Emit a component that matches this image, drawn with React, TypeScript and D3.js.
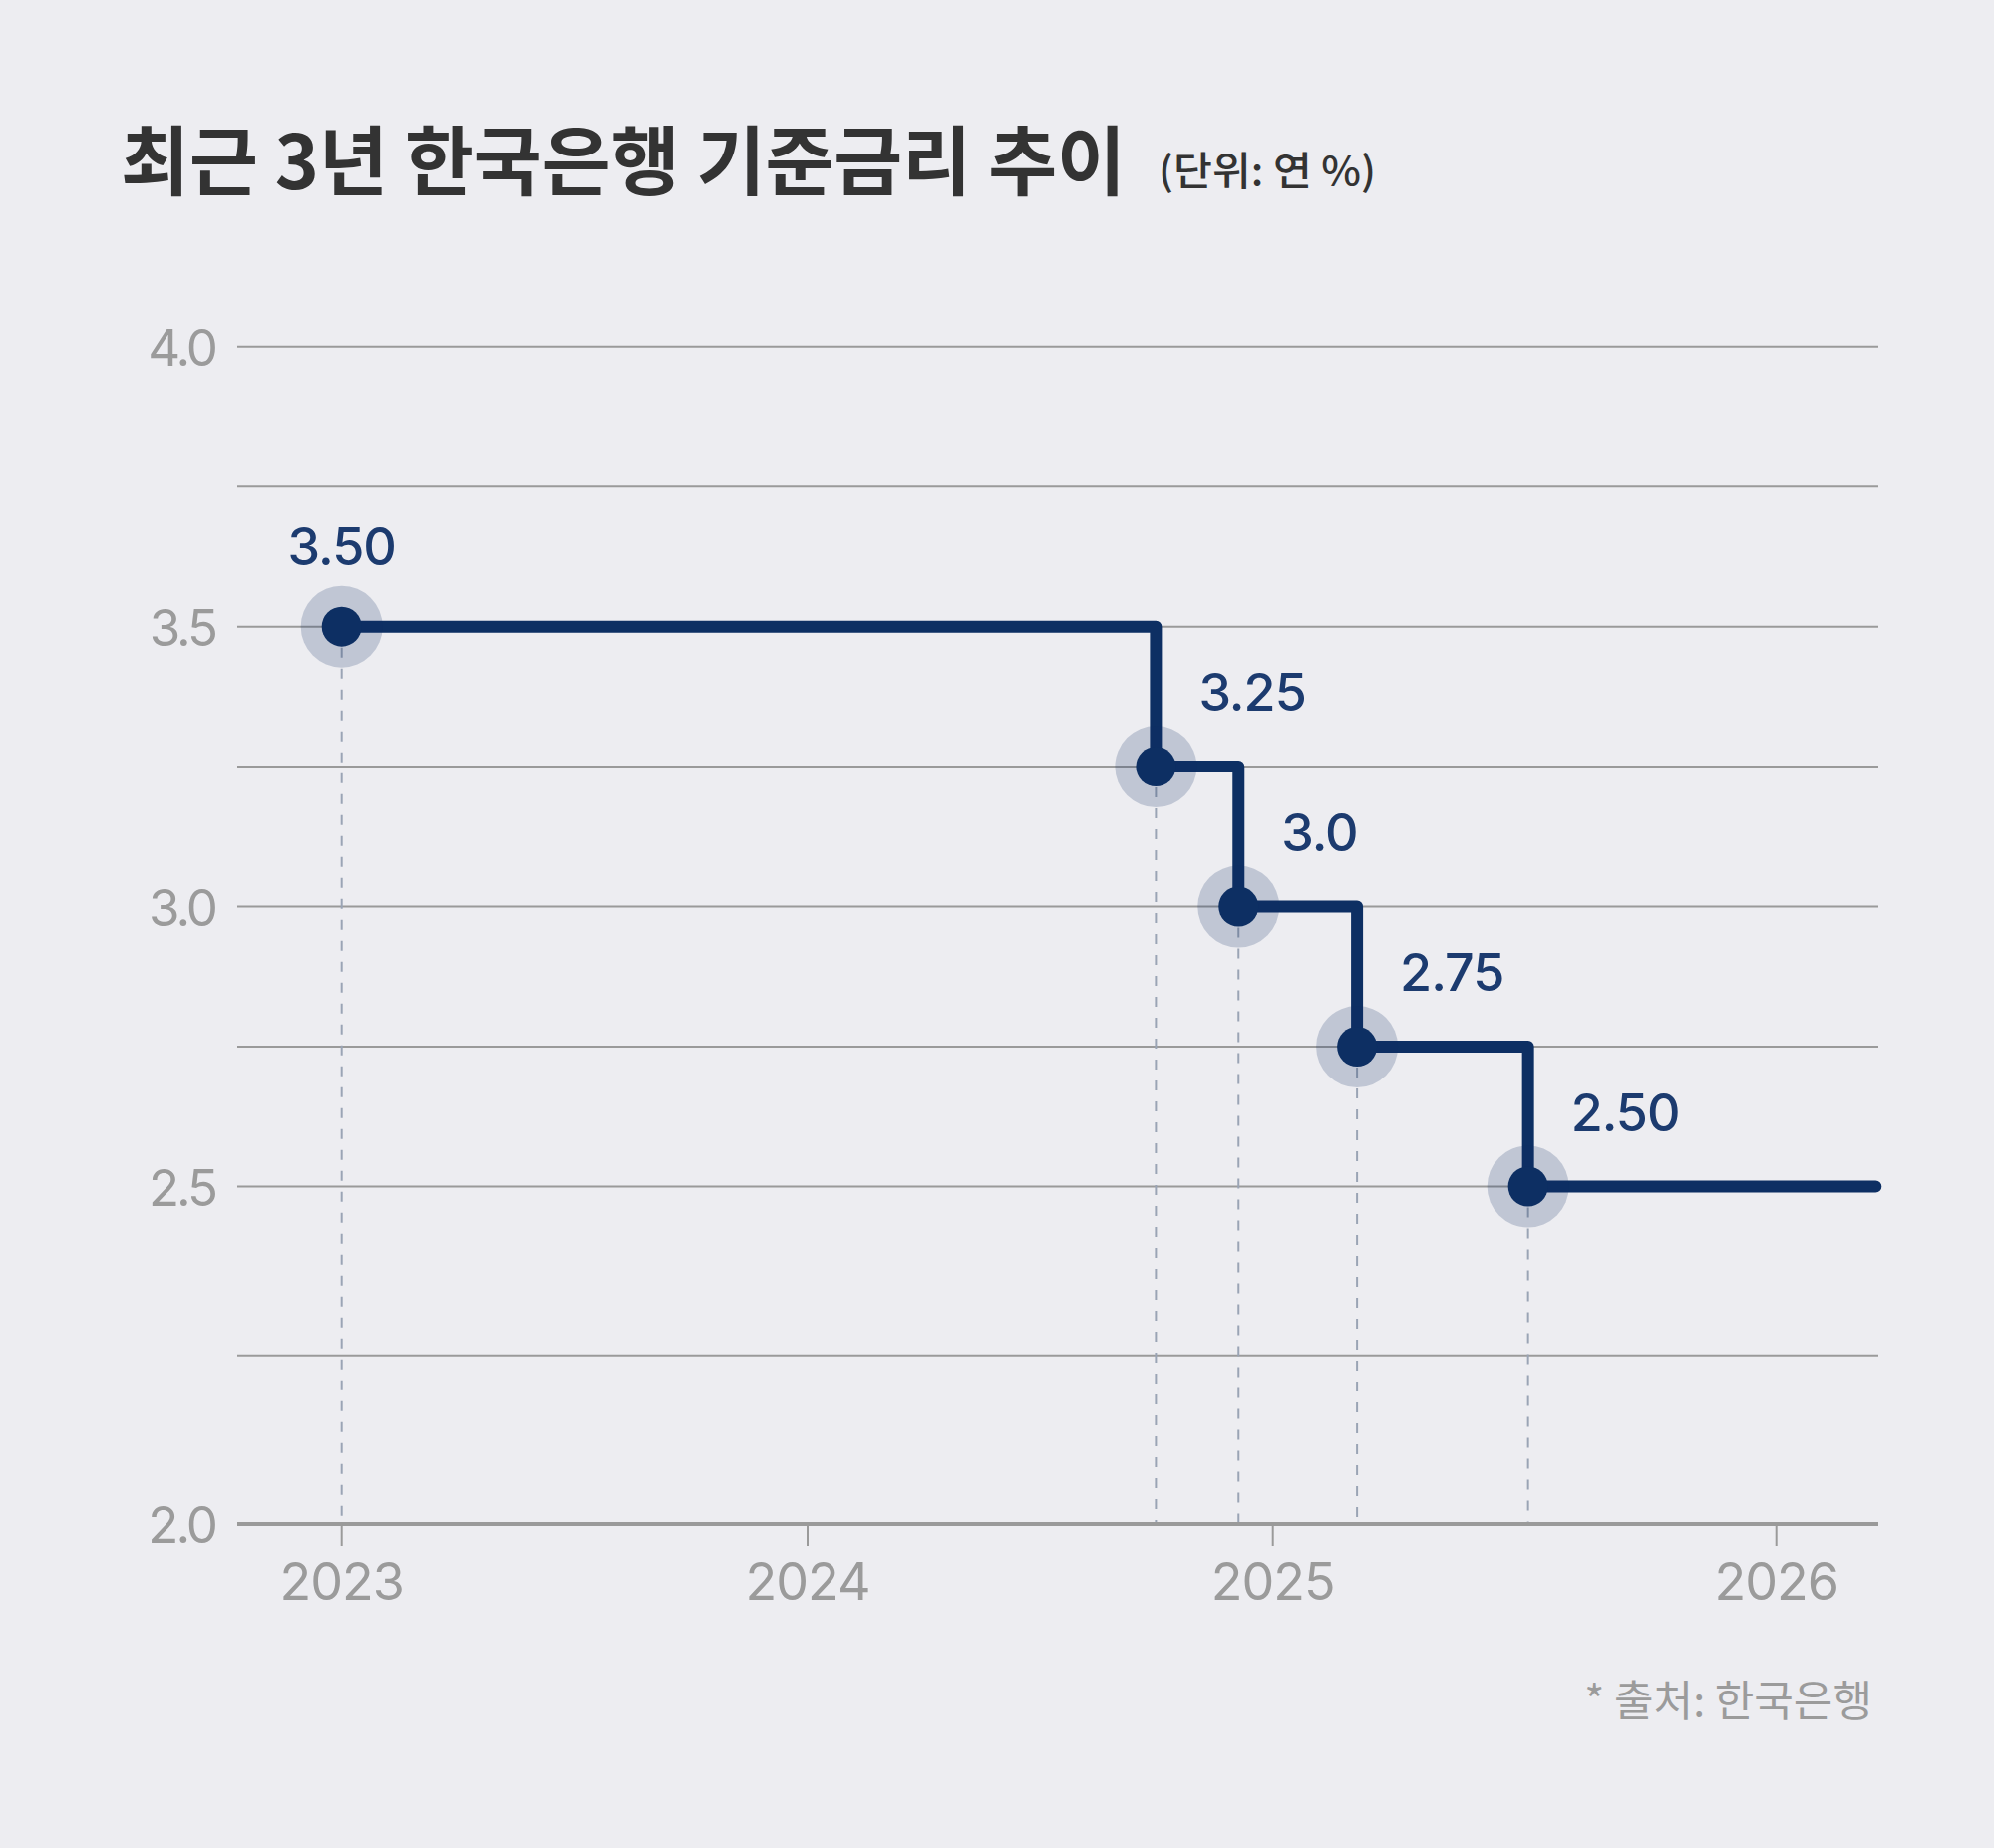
import React, { useEffect, useRef } from 'react';
import * as d3 from 'd3';

// Rate change dates and resulting base rate (last entry only extends the line)
const changeDates = ['2023-01-01', '2024-10-01', '2024-12-05', '2025-03-03', '2025-07-05', '2026-03-14'];
const rates = [3.5, 3.25, 3.0, 2.75, 2.5, 2.5];
const pointLabels = ['3.50', '3.25', '3.0', '2.75', '2.50'];

const yearTicks = ['2023-01-01', '2024-01-01', '2025-01-01', '2026-01-01'];
const yearLabels = ['2023', '2024', '2025', '2026'];
const yTicks = [4.0, 3.5, 3.0, 2.5, 2.0];
const gridValues = [4.0, 3.75, 3.5, 3.25, 3.0, 2.75, 2.5, 2.25];

const title = '최근 3년 한국은행 기준금리 추이';
const unit = '(단위: 연 %)';
const source = '* 출처: 한국은행';

const KR = '"Noto Sans CJK KR", "Noto Sans", sans-serif';
const NUM = 'Inter, "Noto Sans", sans-serif';

export default function App() {
  const svgRef = useRef<SVGSVGElement>(null);

  useEffect(() => {
    if (!svgRef.current) return;
    d3.select(svgRef.current).selectAll('*').remove();

    const width = 2000,
      height = 1854;
    const left = 238,
      right = 1884;
    const parse = d3.utcParse('%Y-%m-%d');

    const svg = d3.select(svgRef.current).attr('width', width).attr('height', height);

    svg.append('rect').attr('width', width).attr('height', height).attr('fill', '#ededf1');

    // x: one segment per year
    const x = d3
      .scaleUtc()
      .domain(yearTicks.map(d => parse(d) as Date))
      .range([342.7, 810, 1276.7, 1781.7]);

    // y: 2.0 baseline sits below an evenly spaced 2.5–4.0 band
    const y = d3.scaleLinear().domain([2.0, 2.5, 4.0]).range([1529, 1190.5, 347.7]);

    // Title
    svg.append('text')
      .attr('x', 121)
      .attr('y', 190)
      .attr('font-family', KR)
      .attr('font-weight', 700)
      .attr('font-size', 76)
      .attr('fill', '#333333')
      .attr('textLength', 1008)
      .attr('lengthAdjust', 'spacingAndGlyphs')
      .text(title);

    svg.append('text')
      .attr('x', 1162)
      .attr('y', 186)
      .attr('font-family', KR)
      .attr('font-weight', 500)
      .attr('font-size', 40)
      .attr('fill', '#333333')
      .attr('textLength', 218)
      .attr('lengthAdjust', 'spacingAndGlyphs')
      .text(unit);

    // Grid lines
    svg.append('g')
      .selectAll('line')
      .data(gridValues)
      .enter()
      .append('line')
      .attr('x1', left)
      .attr('x2', right)
      .attr('y1', d => y(d))
      .attr('y2', d => y(d))
      .attr('stroke', '#9a9a9a')
      .attr('stroke-width', 2);

    // Y tick labels
    svg.append('g')
      .selectAll('text')
      .data(yTicks)
      .enter()
      .append('text')
      .attr('x', 216)
      .attr('y', d => y(d) + 19)
      .attr('text-anchor', 'end')
      .attr('font-family', NUM)
      .attr('font-size', 51)
      .attr('letter-spacing', -3)
      .attr('fill', '#9b9b9b')
      .text(d => d.toFixed(1));

    const data = changeDates.map((d, i) => ({ date: parse(d) as Date, rate: rates[i] }));
    const points = data.slice(0, pointLabels.length);

    // Dashed drop lines
    svg.append('g')
      .selectAll('line')
      .data(points)
      .enter()
      .append('line')
      .attr('x1', d => x(d.date))
      .attr('x2', d => x(d.date))
      .attr('y1', d => y(d.rate))
      .attr('y2', y(2.0))
      .attr('stroke', '#9aa4b5')
      .attr('stroke-width', 2)
      .attr('stroke-dasharray', '10 11');

    // X axis line + ticks
    svg.append('line')
      .attr('x1', left)
      .attr('x2', right)
      .attr('y1', y(2.0))
      .attr('y2', y(2.0))
      .attr('stroke', '#9a9a9a')
      .attr('stroke-width', 4);

    const xTicks = svg.append('g')
      .selectAll('g')
      .data(yearTicks)
      .enter()
      .append('g')
      .attr('transform', d => `translate(${x(parse(d) as Date)},0)`);

    xTicks.append('line')
      .attr('y1', y(2.0))
      .attr('y2', y(2.0) + 22)
      .attr('stroke', '#9a9a9a')
      .attr('stroke-width', 2);

    xTicks.append('text')
      .attr('y', 1605)
      .attr('text-anchor', 'middle')
      .attr('font-family', NUM)
      .attr('font-size', 52)
      .attr('letter-spacing', -1)
      .attr('fill', '#9b9b9b')
      .text((_, i) => yearLabels[i]);

    // Step line
    const line = d3
      .line<{ date: Date; rate: number }>()
      .x(d => x(d.date))
      .y(d => y(d.rate))
      .curve(d3.curveStepAfter);

    svg.append('path')
      .datum(data)
      .attr('d', line)
      .attr('fill', 'none')
      .attr('stroke', '#0d2f63')
      .attr('stroke-width', 12)
      .attr('stroke-linejoin', 'round')
      .attr('stroke-linecap', 'round');

    // Points with halo
    svg.append('g')
      .selectAll('circle')
      .data(points)
      .enter()
      .append('circle')
      .attr('cx', d => x(d.date))
      .attr('cy', d => y(d.rate))
      .attr('r', 41)
      .attr('fill', '#0d2f63')
      .attr('fill-opacity', 0.2);

    svg.append('g')
      .selectAll('circle')
      .data(points)
      .enter()
      .append('circle')
      .attr('cx', d => x(d.date))
      .attr('cy', d => y(d.rate))
      .attr('r', 20)
      .attr('fill', '#0d2f63');

    // Value labels
    svg.append('g')
      .selectAll('text')
      .data(points)
      .enter()
      .append('text')
      .attr('x', (d, i) => (i === 0 ? x(d.date) : x(d.date) + 43))
      .attr('y', (d, i) => (i === 0 ? y(d.rate) - 62 : y(d.rate) - 56))
      .attr('text-anchor', (_, i) => (i === 0 ? 'middle' : 'start'))
      .attr('font-family', NUM)
      .attr('font-weight', 500)
      .attr('font-size', 52)
      .attr('letter-spacing', -1)
      .attr('fill', '#1c3b6f')
      .text((_, i) => pointLabels[i]);

    // Source
    svg.append('text')
      .attr('x', 1878)
      .attr('y', 1722)
      .attr('text-anchor', 'end')
      .attr('font-family', KR)
      .attr('font-size', 43)
      .attr('fill', '#9b9b9b')
      .text(source);
  }, []);

  return (
    <div style={{ position: 'absolute', left: 0, top: 0 }}>
      <svg ref={svgRef} style={{ display: 'block' }}></svg>
    </div>
  );
}
